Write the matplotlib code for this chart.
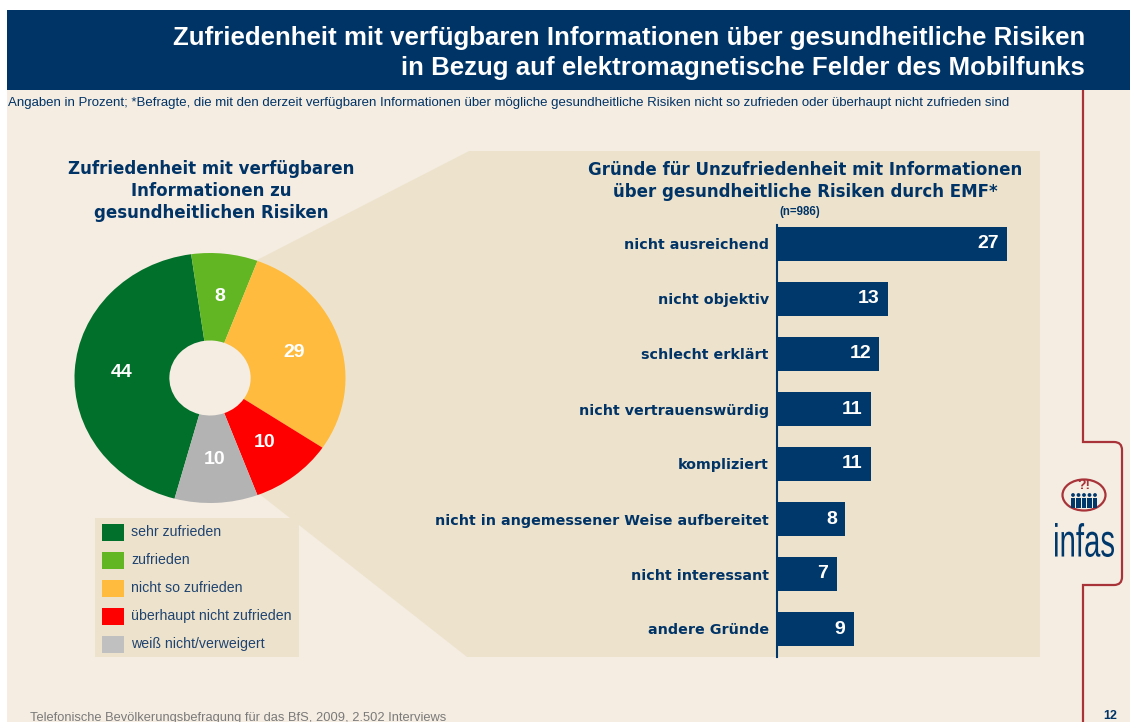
import matplotlib
matplotlib.use("Agg")
import matplotlib.pyplot as plt
import numpy as np
from matplotlib.patches import Rectangle, Polygon, PathPatch, Ellipse, Circle
from matplotlib.path import Path
from matplotlib.textpath import TextPath
from matplotlib.font_manager import FontProperties
from matplotlib.transforms import Affine2D

# ---------------- data ----------------
title_lines = ["Zufriedenheit mit verfügbaren Informationen über gesundheitliche Risiken",
               "in Bezug auf elektromagnetische Felder des Mobilfunks"]
subtitle = ("Angaben in Prozent; *Befragte, die mit den derzeit verfügbaren Informationen über mögliche "
            "gesundheitliche Risiken nicht so zufrieden oder überhaupt nicht zufrieden sind")
pie_title = "Zufriedenheit mit verfügbaren\nInformationen zu\ngesundheitlichen Risiken"
pie_labels = ["sehr zufrieden", "zufrieden", "nicht so zufrieden",
              "überhaupt nicht zufrieden", "weiß nicht/verweigert"]
pie_values = [44, 8, 29, 10, 10]
pie_colors = ["#00702B", "#62B623", "#FFBB3D", "#FF0000", "#B3B3B3"]
legend_colors = ["#00702B", "#62B623", "#FFBB3D", "#FF0000", "#C0C0C0"]

bar_title = "Gründe für Unzufriedenheit mit Informationen\nüber gesundheitliche Risiken durch EMF*"
bar_note = "(n=986)"
bar_categories = ["nicht ausreichend", "nicht objektiv", "schlecht erklärt",
                  "nicht vertrauenswürdig", "kompliziert",
                  "nicht in angemessener Weise aufbereitet", "nicht interessant",
                  "andere Gründe"]
bar_values = [27, 13, 12, 11, 11, 8, 7, 9]
footer = "Telefonische Bevölkerungsbefragung für das BfS, 2009, 2.502 Interviews"
page_no = "12"

# ---------------- style ----------------
NAVY = "#003366"
BARNAVY = "#00386C"
CREAM = "#F5EDE2"
PANEL = "#EDE3CD"
RED_LINE = "#A8343A"
SANS = ["Liberation Sans", "DejaVu Sans"]
WIDE = ["DejaVu Sans"]
NARROW = ["Liberation Sans Narrow", "Liberation Sans", "DejaVu Sans"]
plt.rcParams["font.family"] = SANS

W, H = 1130, 722
fig = plt.figure(figsize=(W / 100, H / 100), dpi=100, facecolor="white")
ax0 = fig.add_axes([0, 0, 1, 1])
ax0.set_xlim(0, W)
ax0.set_ylim(H, 0)
ax0.axis("off")

# background
ax0.add_patch(Rectangle((7, 10), W - 7, H - 10, facecolor=CREAM, edgecolor="none", zorder=0))
ax0.add_patch(Rectangle((7, 10), W - 7, 80, facecolor=NAVY, edgecolor="none", zorder=1))
for i, line in enumerate(title_lines):
    ax0.text(1085, 38 + i * 30, line, ha="right", va="center", color="white",
             fontsize=18.6, fontweight="bold", family=NARROW, zorder=2)
ax0.text(8, 103, subtitle, ha="left", va="center", color=NAVY, fontsize=9.5, zorder=2)

# beige connection panel
panel = Polygon([(255, 261), (469, 151), (1040, 151), (1040, 657), (467, 657),
                 (258, 493), (300, 378)], closed=True, facecolor=PANEL,
                edgecolor="none", zorder=1)
ax0.add_patch(panel)

# red bracket line
r = 8
verts = [(1083, 90), (1083, 442), (1122 - r, 442), (1122, 442), (1122, 442 + r),
         (1122, 585 - r), (1122, 585), (1122 - r, 585), (1083, 585), (1083, 722)]
codes = [Path.MOVETO, Path.LINETO, Path.LINETO, Path.CURVE3, Path.CURVE3,
         Path.LINETO, Path.CURVE3, Path.CURVE3, Path.LINETO, Path.LINETO]
ax0.add_patch(PathPatch(Path(verts, codes), facecolor="none", edgecolor=RED_LINE,
                        lw=1.6, zorder=2))

# logo
ax0.add_patch(Ellipse((1084, 495), 43, 31, facecolor="none", edgecolor=RED_LINE, lw=1.6, zorder=3))
ax0.text(1084, 485, "?!", ha="center", va="center", color=RED_LINE, fontsize=10,
         fontweight="bold", zorder=4)
for xs in [1073, 1078.5, 1084, 1089.5, 1095]:
    ax0.add_patch(Circle((xs, 495), 1.9, facecolor=BARNAVY, edgecolor="none", zorder=4))
    ax0.add_patch(Rectangle((xs - 2.2, 498), 4.4, 10, facecolor=BARNAVY, edgecolor="none", zorder=4))
tp = TextPath((0, 0), "infas", size=20, prop=FontProperties(family=NARROW))
bb = tp.get_extents()
tr = (Affine2D().translate(-bb.x0, -bb.y0)
      .scale(59 / bb.width, -34 / bb.height).translate(1055, 557))
ax0.add_patch(PathPatch(tr.transform_path(tp), facecolor=BARNAVY, edgecolor="none", zorder=4))

# footer
ax0.text(30, 718, footer, ha="left", va="center", color="#7A7A7A", fontsize=9.3,
         zorder=2)
ax0.text(1110, 716, page_no, ha="center", va="center", color=NAVY, fontsize=9,
         fontweight="bold", zorder=2)

# ---------------- pie ----------------
ax0.text(211, 191, pie_title, ha="center", va="center", color=NAVY, fontsize=12,
         fontweight="bold", family=WIDE, linespacing=1.25, zorder=2)
axp = fig.add_axes([74.5 / W, 1 - 503 / H, 271 / W, 250 / H])
axp.patch.set_alpha(0)
wedges, _ = axp.pie(pie_values, colors=pie_colors, startangle=98 + 44 / 101 * 360,
                    counterclock=False, radius=1,
                    wedgeprops=dict(width=0.7, edgecolor="none"))
for w, v in zip(wedges, pie_values):
    th = np.deg2rad((w.theta1 + w.theta2) / 2)
    axp.text(0.655 * np.cos(th), 0.655 * np.sin(th), str(v), ha="center", va="center",
             color="white", fontsize=14, fontweight="bold")
axp.set_aspect("auto")
axp.set_xlim(-1, 1)
axp.set_ylim(-1, 1)
axp.axis("off")

# legend
ax0.add_patch(Rectangle((95, 518), 204, 139, facecolor=PANEL, edgecolor="none", zorder=2))
for i, (lab, col) in enumerate(zip(pie_labels, legend_colors)):
    yc = 532 + i * 28
    ax0.add_patch(Rectangle((102, yc - 8.5), 22, 17, facecolor=col, edgecolor="none", zorder=3))
    ax0.text(131, yc, lab, ha="left", va="center", color="#1F4370", fontsize=10.2, zorder=3)

# ---------------- bars ----------------
ax0.text(805, 181, bar_title, ha="center", va="center", color=NAVY, fontsize=12,
         fontweight="bold", family=WIDE, linespacing=1.35, zorder=2)
ax0.text(779, 212, bar_note, ha="left", va="center", color=NAVY, fontsize=8.3,
         fontweight="bold", zorder=2)
px_per_unit = 230 / 27
axb = fig.add_axes([777 / W, 1 - 657 / H, 260 / W, (657 - 225) / H])
axb.patch.set_alpha(0)
ypos = np.arange(len(bar_categories))
axb.barh(ypos, bar_values, height=34 / 55, color=BARNAVY)
axb.set_xlim(0, 260 / px_per_unit)
axb.set_ylim(7 + 28 / 55, -19 / 55)
axb.set_yticks(ypos)
axb.set_yticklabels(bar_categories, fontsize=10.3, fontweight="bold", color=NAVY,
                    family=WIDE)
axb.tick_params(axis="y", length=0, pad=6)
axb.set_xticks([])
for s in ["top", "right", "bottom"]:
    axb.spines[s].set_visible(False)
axb.spines["left"].set_color(BARNAVY)
axb.spines["left"].set_linewidth(1.5)
for y, v in zip(ypos, bar_values):
    axb.annotate(str(v), (v, y), xytext=(-6, 0), textcoords="offset points",
                 ha="right", va="center", color="white", fontsize=14, fontweight="bold")

fig.savefig("out.png", dpi=100, facecolor=fig.get_facecolor())
